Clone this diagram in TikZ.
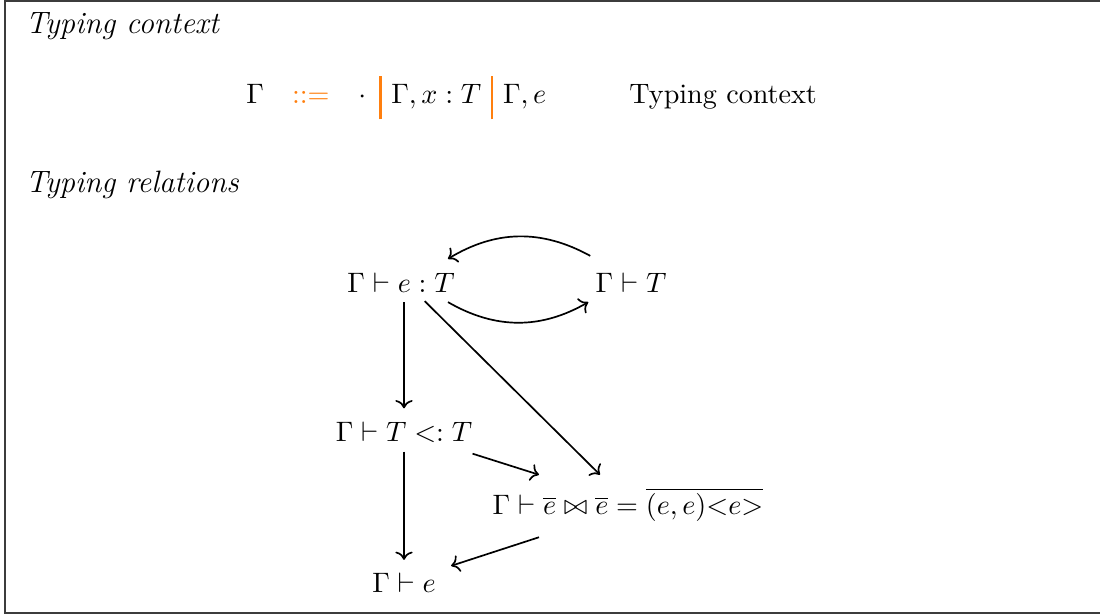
\documentclass[tikz,border=0pt]{standalone}
\usepackage{amsmath,amssymb}
\usetikzlibrary{positioning,arrows.meta,calc}
\definecolor{GrammarOrange}{RGB}{255,127,14}
\definecolor{FrameGray}{RGB}{60,60,60}
\newcommand{\orbar}{\textcolor{GrammarOrange}{\rule[-5.5pt]{0.75pt}{15.5pt}}}

\begin{document}
\begin{tikzpicture}[x=0.0125cm, y=-0.0125cm, every node/.style={inner sep=1pt},
    heading/.style={anchor=base west, inner sep=0pt, font=\fontsize{11}{13}\selectfont\itshape},
    rel/.style={->, semithick}]
  \useasboundingbox (0,0) rectangle (1100,615);
  \draw[FrameGray, line width=0.9pt] (1110,1) -- (5,1) -- (5,613) -- (1110,613);

  % grammar
  \node[heading] (ctxhead) at (25,34) {Typing context};
  \node[anchor=base west] (grammar) at (243,104) {$\Gamma \quad \textcolor{GrammarOrange}{::=} \hspace{8pt} \cdot \hspace{2.5pt}\orbar\hspace{3.5pt} \Gamma, x : T \hspace{3.5pt}\orbar\hspace{3.5pt} \Gamma, e$};
  \node[anchor=base west] (ctxdesc) at (626,104) {Typing context};

  % relations
  \node[heading] (relhead) at (25,193) {Typing relations};
  \node (hasty) at (401,283) {$\Gamma \vdash e : T$};
  \node (wfty) at (631,283) {$\Gamma \vdash T$};
  \node (subty) at (404,432) {$\Gamma \vdash T <: T$};
  \node (join) at (628,505) {$\Gamma \vdash \overline{e} \bowtie \overline{e} = \overline{(e,e)\mbox{<}e\mbox{>}}$};
  \node (wfexp) at (404,583) {$\Gamma \vdash e$};

  \draw[rel] ($(wfty.north west)+(-2,-14)$) to[bend right=30] ($(hasty.north east)+(-10,-11)$);
  \draw[rel] ($(hasty.south east)+(-10,6)$) to[bend right=30] ($(wfty.south west)+(-4,6)$);
  \draw[rel] ($(subty.north |- hasty.south)+(0,6)$) -- ($(subty.north)+(0,-10)$);
  \draw[rel] ($(hasty.-29)+(0,5)$) -- ($(join.north)+(-28,-10)$);
  \draw[rel] ($(subty.south east)+(-3,8)$) -- ($(join.north)+(-89,-10)$);
  \draw[rel] ($(subty.south)+(0,6)$) -- ($(wfexp.north)+(0,-10)$);
  \draw[rel] ($(join.south)+(-89,12)$) -- ($(wfexp.north east)+(12,-4)$);
\end{tikzpicture}
\end{document}
